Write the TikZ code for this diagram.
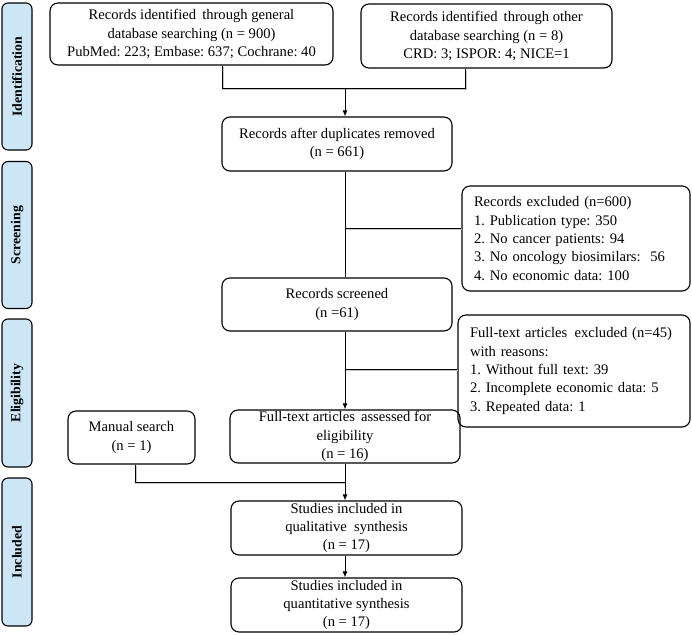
\documentclass[tikz,border=0pt]{standalone}
\usepackage{fontspec}
\setmainfont{Liberation Serif}
\usetikzlibrary{arrows.meta}
\definecolor{barblue}{RGB}{205,230,246}
\frenchspacing
\begin{document}
\begin{tikzpicture}[x=1pt,y=-1pt,
  box/.style={draw, line width=1.1pt, rounded corners=8pt, align=center, font=\fontsize{14.6}{18.2}\selectfont, inner sep=0pt},
  lbox/.style={draw, line width=1.1pt, rounded corners=8pt, align=left, font=\fontsize{14.6}{18.3}\selectfont, inner ysep=0pt, inner xsep=12pt, text width=#1},
  bar/.style={draw, line width=1.1pt, fill=barblue, rounded corners=6pt, minimum width=30pt, inner sep=0pt},
  barlabel/.style={rotate=90, font=\fontsize{13.8}{16}\selectfont\bfseries},
  shade/.style={preaction={draw=black!22, line width=1.4pt, transform canvas={shift={(0.8pt,-1.6pt)}}}},
  conn/.style={line width=1pt, shade},
  arr/.style={line width=1pt, -{Latex[length=6pt,width=5pt]}}]
\useasboundingbox (0,0) rectangle (692,634);
% side bars
\node[bar, minimum height=147pt] (b1) at (17,76.5) {};
\node[barlabel] (l1) at (b1.center) {Identification};
\node[bar, minimum height=147pt] (b2) at (17,235) {};
\node[barlabel] (l2) at (b2.center) {Screening};
\node[bar, minimum height=148pt] (b3) at (17,393) {};
\node[barlabel] (l3) at (b3.center) {Eligibility};
\node[bar, minimum height=148pt] (b4) at (17,552) {};
\node[barlabel] (l4) at (b4.center) {Included};
% coordinates
\coordinate (j1) at (345,88);
\coordinate (j2) at (345,228);
\coordinate (j3) at (345,369);
\coordinate (j4) at (345,482);
% boxes
\node[box, minimum width=283pt, minimum height=62pt] (gen) at (191.5,34) {Records identified\, through general\\database searching (n = 900)\\PubMed: 223; Embase: 637; Cochrane: 40};
\node[box, minimum width=251pt, minimum height=64pt] (oth) at (486.5,36) {Records identified\, through other\\database searching (n = 8)\\CRD: 3; ISPOR: 4; NICE=1};
\node[box, minimum width=230pt, minimum height=54pt] (dup) at (337,144) {Records after duplicates removed\\(n = 661)};
\node[box, minimum width=230pt, minimum height=53pt] (scr) at (337,304.5) {Records screened\\(n =61)};
\node[lbox=204pt, minimum height=105pt] (ex1) at (576,238.5) {Records excluded (n=600)\\1. Publication type: 350\\2. No cancer patients: 94\\3. No oncology biosimilars:\ \ 56\\4. No economic data: 100};
\node[lbox=208pt, minimum height=112pt] (ex2) at (574,371) {Full-text articles\, excluded (n=45)\\with reasons:\\1. Without full text: 39\\2. Incomplete economic data: 5\\3. Repeated data: 1};
\node[box, minimum width=230pt, minimum height=53pt] (full) at (345,436.5) {Full-text articles\, assessed for\\eligibility\\(n = 16)};
\node[box, minimum width=127pt, minimum height=53pt] (man) at (131.5,437.5) {Manual search\\(n = 1)};
\node[box, minimum width=231pt, minimum height=54pt] (qual) at (346.5,528) {Studies included in\\qualitative\ \ synthesis\\(n = 17)};
\node[box, minimum width=231pt, minimum height=54pt] (quan) at (346.5,605) {Studies included in\\quantitative synthesis\\(n = 17)};
% connectors
\draw[conn] (gen.south -| 222,0) |- (j1);
\draw[conn] (oth.south -| 465,0) |- (j1);
\draw[arr] (j1) -- (dup.north -| j1);
\draw[line width=1pt] (dup.south -| j1) -- (scr.north -| j1);
\draw[conn] (j2) -- (ex1.west |- j2);
\draw[arr] (scr.south -| j1) -- (full.north -| j1);
\draw[conn] (j3) -- (ex2.west |- j3);
\draw[conn] (man.south -| 135,0) |- (j4);
\draw[line width=1pt] (full.south -| j4) -- (j4);
\draw[arr] (j4) -- (qual.north -| j4);
\draw[arr] (qual.south -| j4) -- (quan.north -| j4);
\end{tikzpicture}
\end{document}
